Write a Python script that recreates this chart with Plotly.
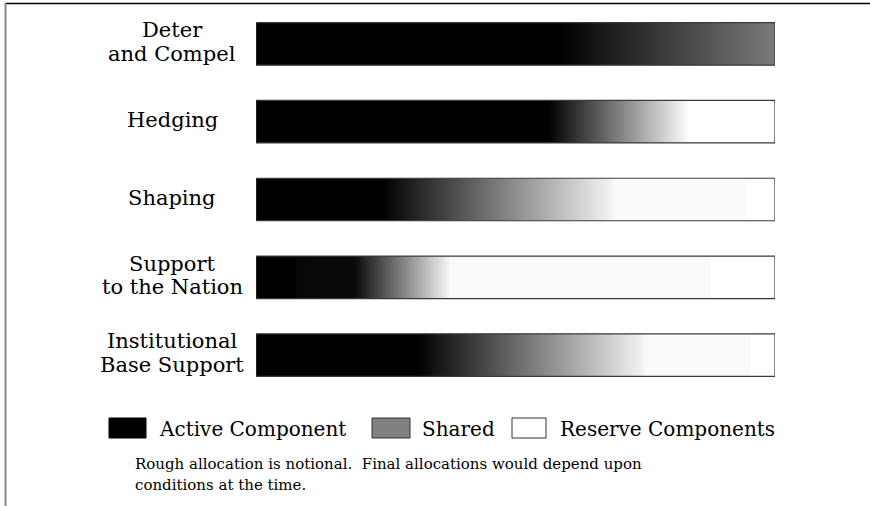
import plotly.graph_objects as go

# ---------------- data ----------------
categories = [
    "Deter\nand Compel",
    "Hedging",
    "Shaping",
    "Support\nto the Nation",
    "Institutional\nBase Support",
]
# share of each mission bar (percent of full bar)
bar_total = [100, 100, 100, 100, 100]
# gradient stops: (fraction of bar, gray level 0=black 255=white)
gradient_stops = [
    [(0.0, 0), (0.584, 0), (1.0, 122)],
    [(0.0, 0), (0.563, 0), (0.836, 255), (1.0, 255)],
    [(0.0, 0), (0.243, 0), (0.686, 244), (0.69, 250), (0.944, 250), (0.945, 255), (1.0, 255)],
    [(0.0, 0), (0.077, 0), (0.078, 7), (0.19, 10), (0.37, 242), (0.375, 250), (0.875, 250), (0.876, 255), (1.0, 255)],
    [(0.0, 0), (0.312, 0), (0.744, 242), (0.75, 250), (0.952, 250), (0.953, 255), (1.0, 255)],
]
legend_labels = ["Active Component", "Shared", "Reserve Components"]
legend_colors = ["#000000", "#808080", "#ffffff"]
note_lines = [
    "Rough allocation is notional.\u00a0 Final allocations would depend upon",
    "conditions at the time.",
]

# ---------------- layout geometry ----------------
W, H = 870, 506
PL, PR, PT, PB = 256, 775, 5, 394
BAR_HALF = 0.273
FONT = "DejaVu Serif"


def xp(px):
    return (px - PL) / (PR - PL)


def yp(py):
    return (PB - py) / (PB - PT)


def gray(v):
    return f"rgb({v},{v},{v})"


fig = go.Figure()

for i, (cat, total, stops) in enumerate(zip(categories, bar_total, gradient_stops)):
    y0, y1 = i - BAR_HALF, i + BAR_HALF
    fig.add_trace(go.Scatter(
        x=[0, total, total, 0, 0],
        y=[y0, y0, y1, y1, y0],
        mode="lines",
        fill="toself",
        fillgradient=dict(
            type="horizontal",
            start=0,
            stop=total,
            colorscale=[[f, gray(g)] for f, g in stops],
        ),
        line=dict(color="#3a3a3a", width=1.2),
        hoverinfo="skip",
        showlegend=False,
    ))

annotations = []
for i, cat in enumerate(categories):
    lines = cat.split("\n")
    n = len(lines)
    for k, line in enumerate(lines):
        shift = (-(k - (n - 1) / 2)) * 23.5
        annotations.append(dict(
            x=xp(172), xref="paper", y=i, yref="y",
            text=line, showarrow=False, xanchor="center", yanchor="middle",
            yshift=shift + 2,
            font=dict(family=FONT, size=21, color="#000"),
        ))

# legend (drawn manually)
swatches = [(109, 146), (372, 410), (512, 546)]
text_x = [157, 420, 558]
shapes = []
for (sx0, sx1), col in zip(swatches, legend_colors):
    shapes.append(dict(
        type="rect", xref="paper", yref="paper",
        x0=xp(sx0), x1=xp(sx1), y0=yp(438), y1=yp(418),
        fillcolor=col, line=dict(color="#333" if col != "#000000" else "#000", width=1),
    ))
for tx, lab in zip(text_x, legend_labels):
    annotations.append(dict(
        x=xp(tx), xref="paper", y=yp(429), yref="paper",
        text=lab, showarrow=False, xanchor="left", yanchor="middle",
        font=dict(family=FONT, size=20, color="#000"),
    ))
for k, line in enumerate(note_lines):
    annotations.append(dict(
        x=xp(133), xref="paper", y=yp(464 + 21 * k), yref="paper",
        text=line, showarrow=False, xanchor="left", yanchor="middle",
        font=dict(family=FONT, size=15, color="#000"),
    ))

# frame lines
shapes.append(dict(type="line", xref="paper", yref="paper",
                   x0=xp(5), x1=xp(872), y0=yp(3.5), y1=yp(3.5),
                   line=dict(color="#000", width=1.5)))
shapes.append(dict(type="line", xref="paper", yref="paper",
                   x0=xp(5.5), x1=xp(5.5), y0=yp(3), y1=yp(510),
                   line=dict(color="#888", width=2)))

fig.update_layout(
    width=W, height=H,
    margin=dict(l=PL, r=W - PR, t=PT, b=H - PB, pad=0, autoexpand=False),
    paper_bgcolor="white", plot_bgcolor="white",
    xaxis=dict(range=[0, 100], visible=False, fixedrange=True),
    yaxis=dict(range=[4.5, -0.5], visible=False, fixedrange=True),
    shapes=shapes,
    annotations=annotations,
    showlegend=False,
)

fig.write_html(
    "out.html",
    config={"displayModeBar": False},
    post_script="document.body.style.margin='0';document.body.style.overflow='hidden';",
)
